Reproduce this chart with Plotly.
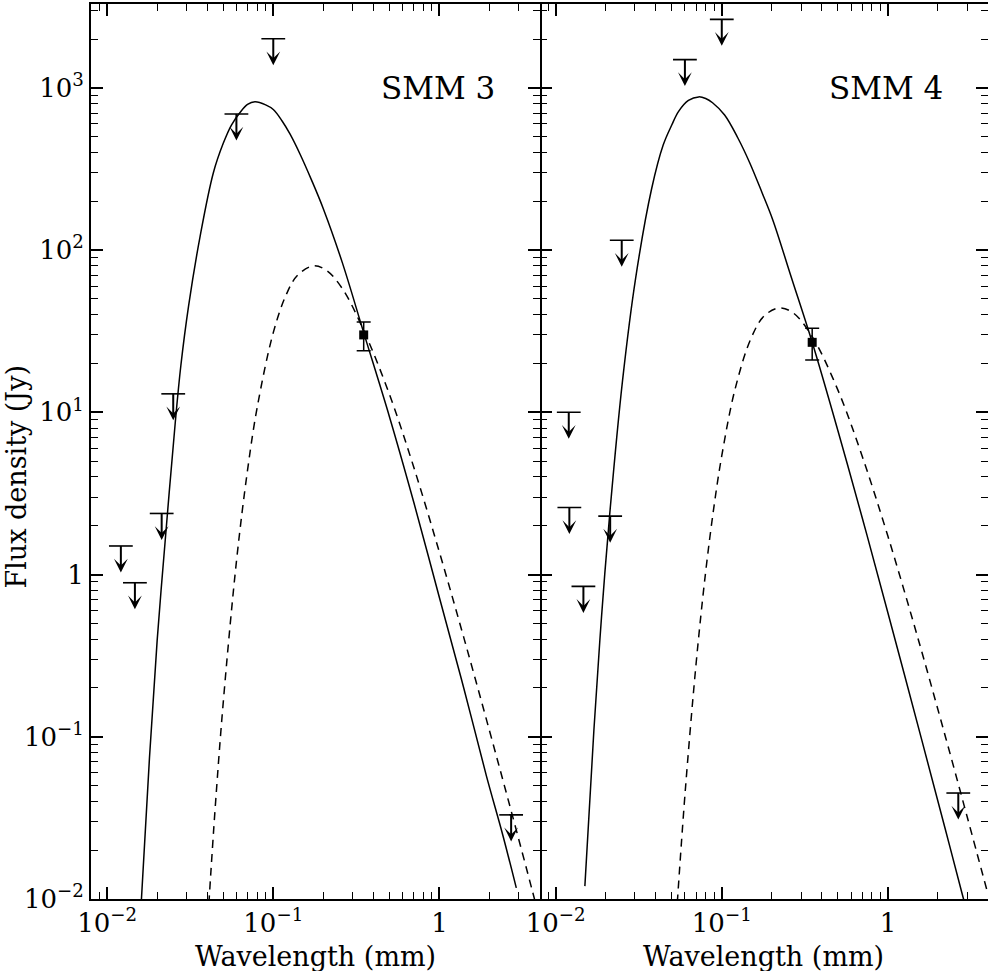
import numpy as np
import plotly.graph_objects as go

# ---------------- data ----------------
# SMM 3 : warm greybody (solid) and cold greybody (dashed)
smm3_warm_wl = [0.0160, 0.0180, 0.0200, 0.0224, 0.0257, 0.0278, 0.0309, 0.0363, 0.0436, 0.0500,
                0.0560, 0.0631, 0.0700, 0.0776, 0.0900, 0.100, 0.113, 0.126, 0.145, 0.170,
                0.200, 0.260, 0.350, 0.50, 0.70, 1.00, 1.40, 1.92, 2.40, 2.90]
smm3_warm_flux = [0.009, 0.075, 0.39, 1.65, 8.6, 19.5, 45.0, 122.0, 300.0, 455.0,
                  590.0, 705.0, 790.0, 820.0, 785.0, 735.0, 625.0, 520.0, 390.0, 270.0,
                  180.0, 84.0, 31.0, 9.4, 2.8, 0.72, 0.20, 0.057, 0.025, 0.0117]
smm3_cold_wl = [0.040, 0.042, 0.045, 0.050, 0.060, 0.070, 0.080, 0.100, 0.120, 0.140,
                0.175, 0.210, 0.260, 0.350, 0.50, 0.70, 1.00, 1.40, 2.00, 2.70, 3.60, 4.00]
smm3_cold_flux = [0.0063, 0.014, 0.040, 0.163, 1.2, 4.4, 10.7, 31.0, 53.5, 70.0,
                  80.0, 74.6, 58.0, 32.0, 12.9, 4.6, 1.37, 0.41, 0.109, 0.035, 0.0115, 0.0076]

# SMM 4
smm4_warm_wl = [0.0150, 0.0170, 0.0189, 0.0212, 0.0253, 0.0303, 0.0378, 0.0444, 0.0500, 0.0550,
                0.0630, 0.0726, 0.0800, 0.0880, 0.104, 0.125, 0.147, 0.175, 0.203, 0.262,
                0.350, 0.50, 0.70, 1.00, 1.60, 2.20, 2.80, 3.00]
smm4_warm_flux = [0.012, 0.11, 0.55, 2.4, 15.8, 67.0, 238.0, 444.0, 590.0, 716.0,
                  836.0, 880.0, 860.0, 810.0, 680.0, 491.0, 347.0, 225.0, 153.0, 68.0,
                  27.0, 7.7, 2.24, 0.58, 0.095, 0.0276, 0.0107, 0.0082]
smm4_cold_wl = [0.054, 0.060, 0.070, 0.080, 0.090, 0.100, 0.120, 0.150, 0.180, 0.223,
                0.270, 0.350, 0.50, 0.70, 1.00, 1.50, 2.23, 3.00, 4.00]
smm4_cold_flux = [0.0095, 0.0435, 0.28, 1.04, 2.68, 5.4, 13.8, 28.6, 39.3, 44.0,
                  40.9, 29.3, 13.7, 5.36, 1.72, 0.42, 0.098, 0.032, 0.0107]

# upper limits
smm3_lim_wl = [0.0121, 0.0147, 0.0213, 0.0250, 0.060, 0.100, 2.70]
smm3_lim_flux = [1.50, 0.89, 2.38, 13.0, 690.0, 2010.0, 0.033]
smm4_lim_wl = [0.0120, 0.0121, 0.0147, 0.0213, 0.0250, 0.060, 0.100, 2.65]
smm4_lim_flux = [10.0, 2.59, 0.845, 2.29, 115.0, 1494.0, 2645.0, 0.045]

# detections (350 micron)
smm3_det_wl, smm3_det_flux, smm3_det_err = [0.35], [30.0], [6.0]
smm4_det_wl, smm4_det_flux, smm4_det_err = [0.35], [27.0], [6.0]

# ticks
x_tickvals = [0.01, 0.1, 1]
x_ticktext = ["10<sup>\u22122</sup>", "10<sup>\u22121</sup>", "1"]
y_tickvals = [0.01, 0.1, 1, 10, 100, 1000]
y_ticktext = ["10<sup>\u22122</sup>", "10<sup>\u22121</sup>", "1",
              "10<sup>1</sup>", "10<sup>2</sup>", "10<sup>3</sup>"]
panel_labels = ["SMM 3", "SMM 4"]
x_title = "Wavelength (mm)"
y_title = "Flux density (Jy)"

# ---------------- figure ----------------
FONT = "DejaVu Serif"
fig = go.Figure()

panels = [
    ("x", "y", smm3_warm_wl, smm3_warm_flux, smm3_cold_wl, smm3_cold_flux,
     smm3_lim_wl, smm3_lim_flux, smm3_det_wl, smm3_det_flux, smm3_det_err),
    ("x2", "y2", smm4_warm_wl, smm4_warm_flux, smm4_cold_wl, smm4_cold_flux,
     smm4_lim_wl, smm4_lim_flux, smm4_det_wl, smm4_det_flux, smm4_det_err),
]

for (xa, ya, wwl, wfl, cwl, cfl, lwl, lfl, dwl, dfl, derr) in panels:
    fig.add_trace(go.Scatter(x=wwl, y=wfl, mode="lines", xaxis=xa, yaxis=ya,
                             line=dict(color="black", width=1.5, shape="spline", smoothing=1.0),
                             showlegend=False, hoverinfo="skip"))
    fig.add_trace(go.Scatter(x=cwl, y=cfl, mode="lines", xaxis=xa, yaxis=ya,
                             line=dict(color="black", width=1.5, dash="8px,6px",
                                       shape="spline", smoothing=1.0),
                             showlegend=False, hoverinfo="skip"))
    # upper-limit bars
    fig.add_trace(go.Scatter(x=lwl, y=lfl, mode="markers", xaxis=xa, yaxis=ya,
                             marker=dict(symbol="line-ew", size=17,
                                         line=dict(color="black", width=1.6)),
                             showlegend=False, hoverinfo="skip"))
    # detection with error bar
    fig.add_trace(go.Scatter(x=dwl, y=dfl, mode="markers", xaxis=xa, yaxis=ya,
                             marker=dict(symbol="square", size=9, color="black"),
                             error_y=dict(type="data", array=derr, visible=True,
                                          color="black", thickness=1.5, width=7),
                             showlegend=False, hoverinfo="skip"))
    # arrows for the upper limits
    for wl, fl in zip(lwl, lfl):
        fig.add_annotation(x=np.log10(wl), y=np.log10(fl), xref=xa, yref=ya,
                           text="", showarrow=True, ax=0, ay=28,
                           arrowside="start", startarrowhead=3, startarrowsize=1.15,
                           arrowwidth=2.0, arrowcolor="black", startstandoff=0)

xr = [np.log10(0.008), np.log10(4.0)]
yr = [-2.0, 3.517]
minor_vals = [m * 10.0 ** e for e in range(-3, 4) for m in range(2, 10)]

axis_common = dict(type="log", showline=True, linecolor="black", linewidth=2,
                   mirror="ticks", ticks="inside", ticklen=12, tickwidth=1.6,
                   tickcolor="black", showgrid=False, zeroline=False,
                   tickfont=dict(family=FONT, size=26, color="black"),
                   minor=dict(ticks="inside", ticklen=7, tickwidth=1.3, tickcolor="black",
                              tickmode="array", tickvals=minor_vals, showgrid=False))

fig.update_layout(
    width=990, height=971,
    margin=dict(l=91, r=2, t=2, b=72),
    paper_bgcolor="white", plot_bgcolor="white",
    xaxis=dict(axis_common, domain=[0, 0.5], range=xr, anchor="y",
               tickmode="array", tickvals=x_tickvals, ticktext=x_ticktext),
    xaxis2=dict(axis_common, domain=[0.5, 1], range=xr, anchor="y2",
                tickmode="array", tickvals=x_tickvals, ticktext=x_ticktext),
    yaxis=dict(axis_common, domain=[0, 1], range=yr, anchor="x",
               tickmode="array", tickvals=y_tickvals, ticktext=y_ticktext),
    yaxis2=dict(axis_common, domain=[0, 1], range=yr, anchor="x2", matches="y",
                tickmode="array", tickvals=y_tickvals, ticktext=y_ticktext,
                showticklabels=False, showline=False),
)

# panel labels and axis titles
for xa, ya, lab in [("x", "y", panel_labels[0]), ("x2", "y2", panel_labels[1])]:
    fig.add_annotation(text=lab, xref=xa + " domain", yref=ya + " domain",
                       x=0.905, y=0.906, xanchor="right", yanchor="middle",
                       showarrow=False, font=dict(family=FONT, size=31, color="black"))
    fig.add_annotation(text=x_title, xref=xa + " domain", yref="paper",
                       x=0.5, y=-0.064, xanchor="center", yanchor="middle",
                       showarrow=False, font=dict(family=FONT, size=27, color="black"))

fig.add_annotation(text=y_title, xref="paper", yref="paper", x=-0.0825, y=0.472,
                   xanchor="center", yanchor="middle", textangle=-90, showarrow=False,
                   font=dict(family=FONT, size=27, color="black"))

fig.write_html("out.html", config={"displayModeBar": False},
               post_script="document.body.style.margin='0';document.body.style.overflow='hidden';")
